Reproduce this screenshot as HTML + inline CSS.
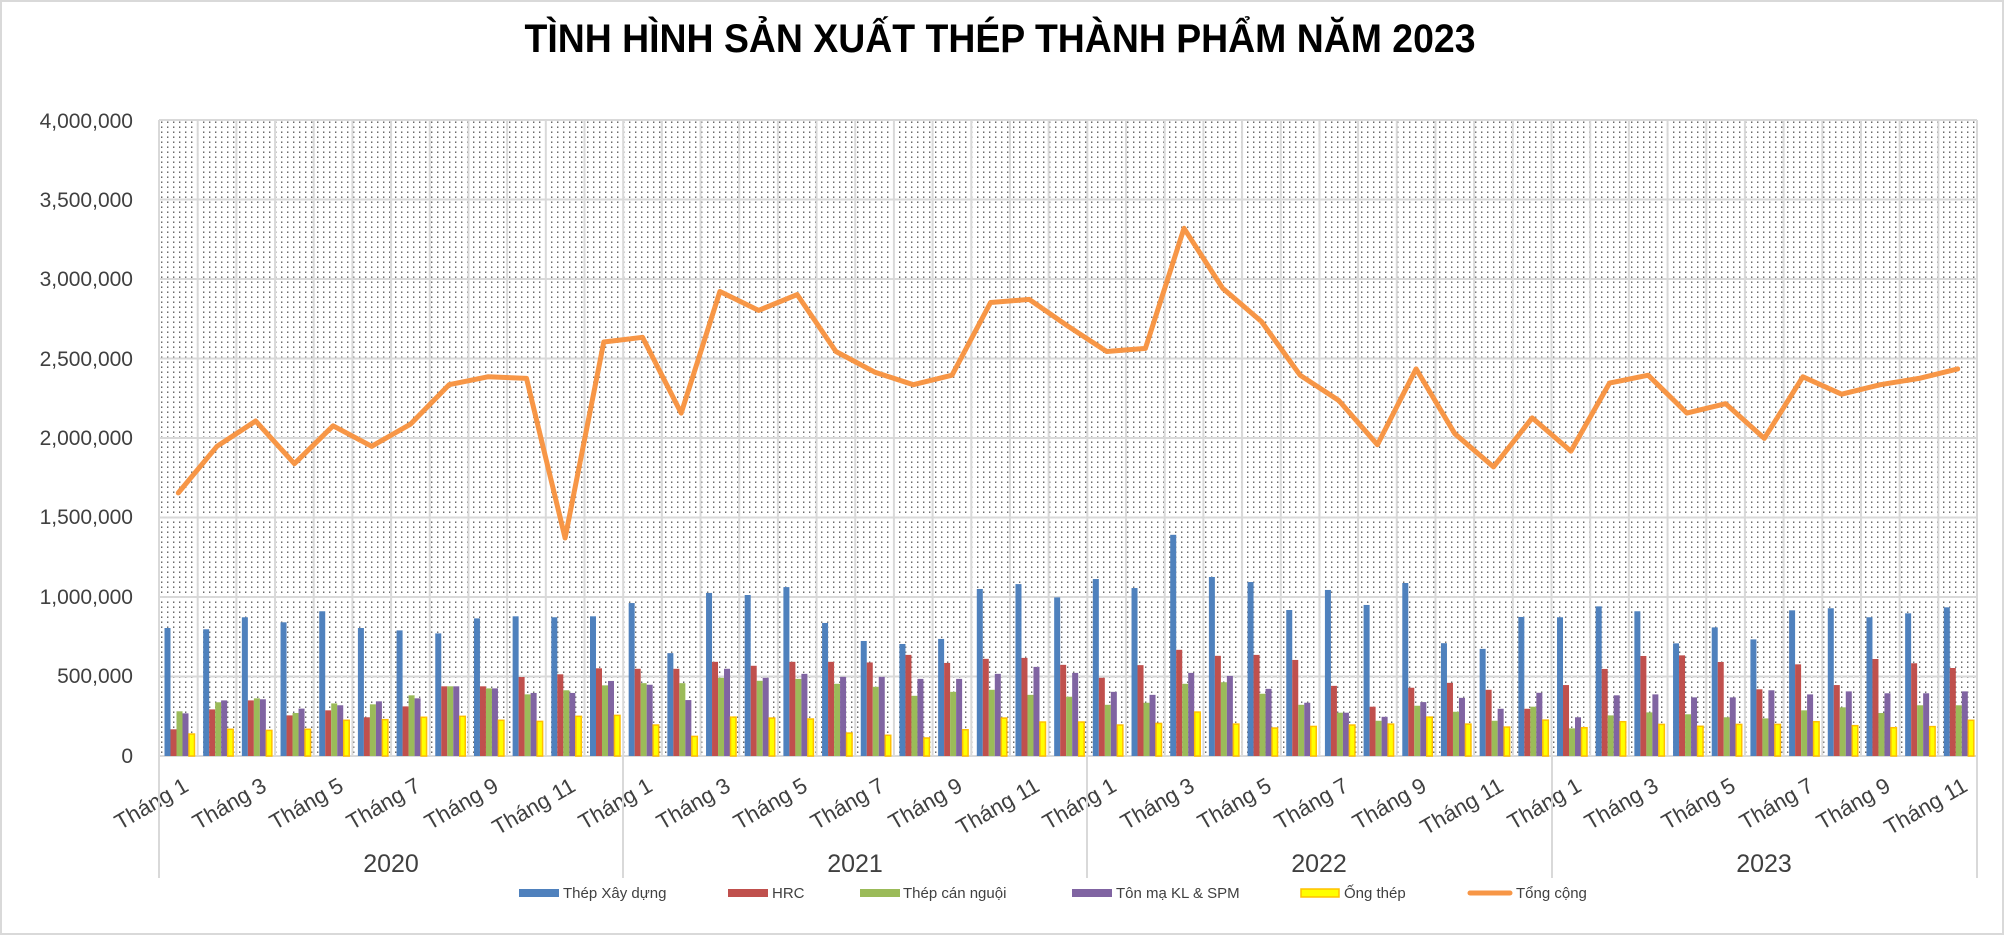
<!DOCTYPE html>
<html><head><meta charset="utf-8"><style>
html,body{margin:0;padding:0;background:#fff}
svg{display:block}
text{font-family:"Liberation Sans",sans-serif}
</style></head><body>
<svg id="c" width="2004" height="936" xmlns="http://www.w3.org/2000/svg">
<defs>
<pattern id="dots" x="159" y="120" width="6" height="5" patternUnits="userSpaceOnUse">
<rect x="2" y="1.5" width="1.4" height="1.4" fill="#5a5a5a"/>
</pattern>
</defs>
<rect x="1" y="1" width="2002" height="933" fill="#fff" stroke="#d9d9d9" stroke-width="2"/>
<text x="1000" y="52" font-size="40" font-weight="bold" text-anchor="middle" textLength="951" lengthAdjust="spacingAndGlyphs" fill="#000">TÌNH HÌNH SẢN XUẤT THÉP THÀNH PHẨM NĂM 2023</text>
<rect x="159" y="120" width="1818" height="636" fill="url(#dots)"/>
<g id="grid" stroke="#d9d9d9" stroke-width="2"></g>
<g id="bars"></g>
<polyline id="tot" fill="none" stroke="#f79646" stroke-width="5" stroke-linejoin="round" stroke-linecap="round"/>
<g font-size="21" fill="#404040" text-anchor="end">
<text x="133" y="128">4,000,000</text>
<text x="133" y="207">3,500,000</text>
<text x="133" y="286">3,000,000</text>
<text x="133" y="366">2,500,000</text>
<text x="133" y="445">2,000,000</text>
<text x="133" y="524">1,500,000</text>
<text x="133" y="604">1,000,000</text>
<text x="133" y="683">500,000</text>
<text x="133" y="763">0</text>
</g>
<g font-size="22" fill="#404040" text-anchor="end">
<text transform="translate(190,790) rotate(-30)">Tháng 1</text>
<text transform="translate(268,790) rotate(-30)">Tháng 3</text>
<text transform="translate(345,790) rotate(-30)">Tháng 5</text>
<text transform="translate(422,790) rotate(-30)">Tháng 7</text>
<text transform="translate(500,790) rotate(-30)">Tháng 9</text>
<text transform="translate(577,790) rotate(-30)">Tháng 11</text>
<text transform="translate(654,790) rotate(-30)">Tháng 1</text>
<text transform="translate(732,790) rotate(-30)">Tháng 3</text>
<text transform="translate(809,790) rotate(-30)">Tháng 5</text>
<text transform="translate(886,790) rotate(-30)">Tháng 7</text>
<text transform="translate(964,790) rotate(-30)">Tháng 9</text>
<text transform="translate(1041,790) rotate(-30)">Tháng 11</text>
<text transform="translate(1118,790) rotate(-30)">Tháng 1</text>
<text transform="translate(1196,790) rotate(-30)">Tháng 3</text>
<text transform="translate(1273,790) rotate(-30)">Tháng 5</text>
<text transform="translate(1350,790) rotate(-30)">Tháng 7</text>
<text transform="translate(1428,790) rotate(-30)">Tháng 9</text>
<text transform="translate(1505,790) rotate(-30)">Tháng 11</text>
<text transform="translate(1583,790) rotate(-30)">Tháng 1</text>
<text transform="translate(1660,790) rotate(-30)">Tháng 3</text>
<text transform="translate(1737,790) rotate(-30)">Tháng 5</text>
<text transform="translate(1815,790) rotate(-30)">Tháng 7</text>
<text transform="translate(1892,790) rotate(-30)">Tháng 9</text>
<text transform="translate(1969,790) rotate(-30)">Tháng 11</text>
</g>
<g font-size="25" fill="#404040" text-anchor="middle">
<text x="391" y="872">2020</text>
<text x="855" y="872">2021</text>
<text x="1319" y="872">2022</text>
<text x="1764" y="872">2023</text>
</g>
<g stroke="#d9d9d9" stroke-width="2">
<line x1="159" y1="756" x2="159" y2="878"/>
<line x1="623" y1="756" x2="623" y2="878"/>
<line x1="1087" y1="756" x2="1087" y2="878"/>
<line x1="1552" y1="756" x2="1552" y2="878"/>
<line x1="1977" y1="120" x2="1977" y2="878"/>
</g>
<g font-size="15" fill="#404040">
<rect x="519" y="889" width="40" height="8" fill="#4f81bd"/><text x="563" y="898">Thép Xây dựng</text>
<rect x="728" y="889" width="40" height="8" fill="#c0504d"/><text x="772" y="898">HRC</text>
<rect x="860" y="889" width="40" height="8" fill="#9bbb59"/><text x="903" y="898">Thép cán nguội</text>
<rect x="1072" y="889" width="40" height="8" fill="#8064a2"/><text x="1116" y="898">Tôn mạ KL &amp; SPM</text>
<rect x="1301" y="889" width="38" height="8" fill="#ffff00" stroke="#ffc000" stroke-width="1.5"/><text x="1344" y="898">Ống thép</text>
<line x1="1470" y1="893" x2="1510" y2="893" stroke="#f79646" stroke-width="5" stroke-linecap="round"/><text x="1516" y="898">Tổng cộng</text>
</g>
</svg>
<script>
var B=[[810,169,283,270,139],[802,295,340,352,169],[878,352,365,359,162],[846,257,272,300,169],[916,289,333,321,226],[810,245,327,346,230],[795,314,384,365,245],[776,441,441,441,251],[871,441,428,428,226],[884,500,390,399,219],[878,517,416,399,251],[884,555,447,475,257],
[968,552,461,451,196],[651,552,461,354,124],[1032,596,495,552,246],[1019,571,476,495,240],[1069,596,488,520,234],[842,596,457,501,145],[728,592,438,501,131],[709,640,381,488,114],[741,589,406,488,166],[1057,615,419,520,240],[1088,621,387,564,215],[1004,577,375,526,215],
[1120,495,324,406,196],[1063,575,337,387,206],[1400,672,457,526,278],[1133,634,467,507,202],[1101,640,394,425,177],[924,608,324,337,187],[1051,444,274,274,196],[956,312,223,248,202],[1095,432,318,341,246],[714,463,280,368,202],[678,419,223,299,183],[880,299,312,400,227],
[878,449,175,245,179],[947,551,257,384,217],[916,633,276,390,200],[713,637,264,371,188],[814,595,245,371,200],[738,422,238,416,200],[922,580,289,390,217],[935,449,308,409,192],[878,614,272,397,179],[903,587,321,397,186],[941,557,321,409,226]];
var T=[1665,1960,2120,1850,2090,1960,2100,2350,2400,2390,1380,2620,2650,2170,2940,2820,2920,2560,2430,2350,2410,2870,2890,2720,2560,2580,3340,2960,2750,2410,2250,1970,2450,2040,1830,2140,1930,2360,2410,2170,2230,2010,2400,2290,2350,2390,2450];
var C=["#4f81bd","#c0504d","#9bbb59","#8064a2","#ffff00"];
var ns="http://www.w3.org/2000/svg",W=1818/47,g=document.getElementById("grid"),b=document.getElementById("bars");
function el(t,a,p){var e=document.createElementNS(ns,t);for(var k in a)e.setAttribute(k,a[k]);p.appendChild(e);return e;}
for(var i=0;i<=47;i++){var x=159+i*W;el("line",{x1:x,y1:120,x2:x,y2:756},g);}
for(var j=0;j<=8;j++){var y=120+j*79.5;el("line",{x1:159,y1:y,x2:1977,y2:y},g);}
var pts=[];
for(var i=0;i<47;i++){var x0=159+i*W;for(var s=0;s<5;s++){var h=B[i][s]*0.158;var a={x:x0+5.5+s*6,y:756-h,width:6,height:h,fill:C[s]};if(s==4){a.stroke="#ffc000";a["stroke-width"]=1.5;a.x+=0.5;a.width=5.5;}el("rect",a,b);}
pts.push((x0+W/2).toFixed(1)+","+(756-T[i]*0.158).toFixed(1));}
document.getElementById("tot").setAttribute("points",pts.join(" "));
</script>
</body></html>
